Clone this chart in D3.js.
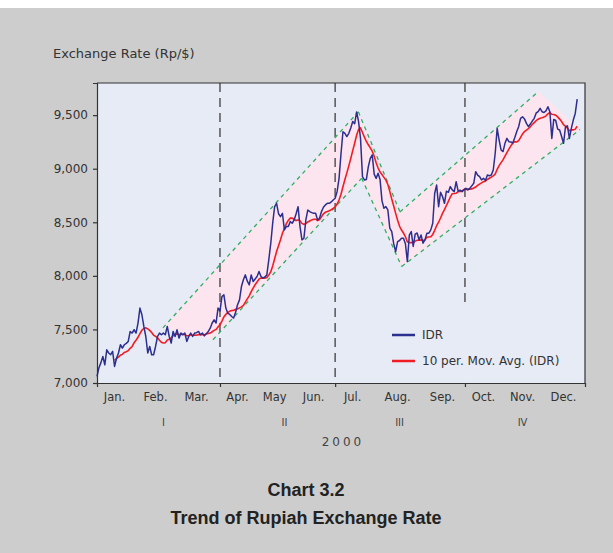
<!DOCTYPE html>
<html><head><meta charset="utf-8">
<script src="https://cdn.jsdelivr.net/npm/d3@7"></script>
<style>
html,body{margin:0;padding:0;background:#cdcdcd;}
svg{display:block;}
</style></head>
<body>
<script>
// ---- data ----
const idr = [7062,7143,7190,7248,7170,7310,7280,7264,7295,7155,
7230,7280,7357,7326,7357,7370,7388,7481,7466,7497,
7466,7559,7699,7637,7528,7434,7280,7341,7264,7264,
7341,7434,7466,7450,7466,7450,7528,7434,7373,7481,
7434,7497,7419,7466,7450,7466,7388,7434,7466,7434,
7466,7470,7481,7450,7466,7440,7460,7481,7512,7560,
7590,7560,7699,7670,7807,7823,7700,7652,7640,7621,
7606,7660,7730,7776,7900,7963,8009,7950,7916,8009,
7947,7970,7994,8040,7994,7979,7990,8009,8149,8300,
8491,8646,8677,8580,8553,8584,8429,8460,8460,8506,
8491,8522,8580,8646,8460,8336,8351,8522,8615,8600,
8590,8584,8584,8522,8538,8600,8640,8662,8677,8677,
8690,8708,8724,8786,8910,9140,9345,9330,9300,9330,
9380,9440,9420,9530,9440,9283,8926,8895,8900,9019,
9097,9128,8950,8910,8957,8900,8700,8631,8646,8615,
8445,8413,8300,8227,8320,8330,8351,8351,8300,8133,
8380,8413,8274,8390,8400,8336,8382,8305,8336,8398,
8398,8429,8491,8771,8848,8646,8780,8740,8677,8790,
8780,8833,8802,8786,8879,8790,8800,8786,8802,8817,
8802,8817,8840,8864,8972,8940,8926,8895,8910,8890,
8941,8935,8941,8988,9144,9376,9268,9175,9160,9237,
9283,9252,9250,9240,9290,9345,9392,9470,9485,9465,
9423,9392,9417,9445,9470,9520,9532,9563,9532,9525,
9540,9578,9532,9283,9460,9450,9370,9361,9300,9237,
9392,9400,9283,9376,9454,9516,9650];
const maPeriod = 10;
const months = ["Jan.","Feb.","Mar.","Apr.","May","Jun.","Jul.","Aug.","Sep.","Oct.","Nov.","Dec."];
const monthMidDay = [9,30,51,72,91,111,131,154,177,198,218,239];
const quarters = ["I","II","III","IV"];
const quarterMidDay = [34,96,155,218];
const quarterBounds = [63,122,188.5];
const yTicks = [7000,7500,8000,8500,9000,9500];
const yDomain = [7000,9800];
const xDomain = [0,250];
// trend channel corner points [tradingDay, Rp/$]
const chA=[33.8,7515], chP=[133.9,9531], chB=[59.4,7404], chC=[135.6,8911],
      chD=[155.2,8597], chE=[156.1,8087], chF=[226.2,9721], chG=[247.4,9365];
const channelAreas = [[chA,chP,chC,chB],[chP,chD,chE,chC],[chD,chF,chG,chE]];
const channelLines = [[chA,chP],[chB,chC],[chP,chD],[chC,chE],[chD,chF],[chE,chG]];
const yearLabel = "2000";
const yTitle = "Exchange Rate (Rp/$)";
const titleLines = ["Chart 3.2","Trend of Rupiah Exchange Rate"];
const legendItems = [{name:"IDR",color:"#2b2f8f"},{name:"10 per. Mov. Avg. (IDR)",color:"#f01d24"}];

// moving average derived from the IDR series
const ma = idr.map((v,i)=> i < maPeriod-1 ? null : d3.mean(idr.slice(i-maPeriod+1,i+1)));

// ---- drawing ----
const W=613,H=553;
const svg=d3.select("body").append("svg").attr("width",W).attr("height",H);
svg.append("rect").attr("width",W).attr("height",H).attr("fill","#cdcdcd");
svg.append("rect").attr("width",W).attr("height",8).attr("fill","#ffffff");

const L=97,R=585,T=83,B=383;
const x=d3.scaleLinear().domain(xDomain).range([L,R]);
const y=d3.scaleLinear().domain(yDomain).range([B,T]);
const font="DejaVu Sans, sans-serif";

svg.append("rect").attr("x",L).attr("y",T).attr("width",R-L).attr("height",B-T).attr("fill","#e7ebf6");

// channel fills
svg.append("g").selectAll("path").data(channelAreas).join("path")
  .attr("d",d=>"M"+d.map(p=>x(p[0])+","+y(p[1])).join("L")+"Z")
  .attr("fill","#fde5ef").attr("stroke","none");

// quarter dashed lines
svg.append("g").selectAll("line").data(quarterBounds).join("line")
  .attr("x1",d=>x(d)).attr("x2",d=>x(d))
  .attr("y1",T).attr("y2",(d,i)=> i===2 ? y(7730) : B)
  .attr("stroke","#555").attr("stroke-width",1.5).attr("stroke-dasharray","9,6");

// channel dashed lines
svg.append("g").selectAll("line").data(channelLines).join("line")
  .attr("x1",d=>x(d[0][0])).attr("y1",d=>y(d[0][1]))
  .attr("x2",d=>x(d[1][0])).attr("y2",d=>y(d[1][1]))
  .attr("stroke","#2fae63").attr("stroke-width",1.3).attr("stroke-dasharray","4,4");

// series
const line=d3.line().defined(d=>d!=null).x((d,i)=>x(i)).y(d=>y(d));
svg.append("path").datum(ma).attr("d",line).attr("fill","none")
  .attr("stroke",legendItems[1].color).attr("stroke-width",1.6);
svg.append("path").datum(idr).attr("d",line).attr("fill","none")
  .attr("stroke",legendItems[0].color).attr("stroke-width",1.5).attr("stroke-linejoin","round");

// borders
svg.append("path").attr("d",`M${L},${T}H${R}V${B}`).attr("fill","none").attr("stroke","#333").attr("stroke-width",1.2);

// axes
const yAxis=d3.axisLeft(y).tickValues(yTicks).tickSize(4).tickSizeOuter(4).tickFormat(d3.format(","));
const gy=svg.append("g").attr("transform",`translate(${L},0)`).call(yAxis);
gy.selectAll("path,line").attr("stroke","#333").attr("stroke-width",1.2);
gy.selectAll("text").attr("font-family",font).attr("font-size",12).attr("fill","#333").attr("x",-9);

const xAxis=d3.axisBottom(x).tickValues(quarterBounds).tickSize(4).tickSizeOuter(4).tickFormat("");
const gx=svg.append("g").attr("transform",`translate(0,${B})`).call(xAxis);
gx.selectAll("path,line").attr("stroke","#333").attr("stroke-width",1.2);

// month labels
svg.append("g").selectAll("text").data(months).join("text")
  .attr("x",(d,i)=>x(monthMidDay[i])).attr("y",401)
  .attr("text-anchor","middle").attr("font-family",font).attr("font-size",11.5).attr("fill","#333")
  .text(d=>d);
// quarter labels
svg.append("g").selectAll("text").data(quarters).join("text")
  .attr("x",(d,i)=>x(quarterMidDay[i])).attr("y",426)
  .attr("text-anchor","middle").attr("font-family",font).attr("font-size",10).attr("fill","#444")
  .text(d=>d);
// year
svg.append("text").attr("x",x(125)+2).attr("y",446).attr("text-anchor","middle")
  .attr("font-family",font).attr("font-size",12).attr("letter-spacing",3).attr("fill","#444").text(yearLabel);

// y axis title
svg.append("text").attr("x",53).attr("y",58).attr("font-family",font).attr("font-size",13)
  .attr("fill","#333").text(yTitle);

// legend
const lg=svg.append("g").selectAll("g").data(legendItems).join("g")
  .attr("transform",(d,i)=>`translate(392,${335+i*26})`);
lg.append("line").attr("x1",0).attr("x2",23).attr("stroke",d=>d.color).attr("stroke-width",2.5);
lg.append("text").attr("x",30).attr("dy","0.35em").attr("font-family",font).attr("font-size",12)
  .attr("fill","#333").text(d=>d.name);

// title
svg.append("g").selectAll("text").data(titleLines).join("text")
  .attr("x",306).attr("y",(d,i)=>496+i*28).attr("text-anchor","middle")
  .attr("font-family","Liberation Sans, Arial, sans-serif").attr("font-weight","bold")
  .attr("font-size",18).attr("fill","#222").text(d=>d);
</script>
</body></html>
